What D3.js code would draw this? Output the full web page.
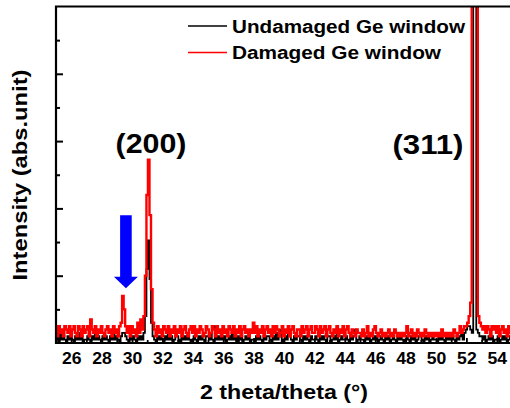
<!DOCTYPE html>
<html>
<head>
<meta charset="utf-8">
<script src="https://cdn.jsdelivr.net/npm/d3@7"></script>
<style>
  html, body { margin: 0; padding: 0; background: #fff; }
  svg { display: block; }
  text { font-family: "Liberation Sans", Arial, sans-serif; font-weight: bold; fill: #000; }
</style>
</head>
<body>
<svg id="chart" width="510" height="408"></svg>
<script>
// XRD scan: 2θ from 25° to 55° in 0.1° steps (one row per degree)
const scanStart = 25;
const scanStep = 0.1;

// Intensity (arbitrary units, axis spans 0–100)
const undamaged = [
  1,2,0,3,1,2,1,0,2,1,
  2,1,0,2,1,3,1,2,0,1,
  1,2,1,0,2,1,3,1,2,1,
  0,2,1,2,1,0,2,1,3,1,
  2,1,0,2,3,3,2,1,0,2,
  1,2,1,0,2,1,2,1,3,8,
  22,30.5,19,6,2,1,0,2,1,2,
  1,0,2,1,3,1,2,0,1,2,
  2,1,0,2,1,2,1,3,1,0,
  1,2,1,0,2,1,2,1,0,2,
  2,1,3,1,0,5,1,2,1,2,
  1,2,0,1,2,1,3,1,2,0,
  2,1,2,0,1,2,1,2,0,1,
  1,0,2,1,2,1,0,2,1,2,
  2,1,0,2,1,3,1,2,4,0,
  1,2,1,3,2,1,0,2,1,2,
  2,1,0,2,1,2,1,0,2,1,
  1,2,1,0,2,1,2,1,0,2,
  2,0,1,2,1,4,0,1,2,1,
  1,2,1,0,2,1,2,4,0,1,
  2,1,1,0,2,1,2,0,1,2,
  1,2,0,1,2,1,0,2,1,2,
  0,1,2,1,0,2,1,2,1,0,
  1,2,1,0,2,1,2,0,1,2,
  2,1,0,2,1,2,0,1,2,1,
  1,0,2,1,2,1,0,2,1,2,
  1,2,1,0,2,1,2,3,1,3,
  4,5,5,4,3,140,130,4,3,2,
  2,1,2,0,1,2,1,2,0,1,
  1,2,0,1,2,1,2,0,1,2,
  1
];

const damaged = [
  4,2,5,3,4,2,5,4,3,5,
  2,4,5,3,2,5,4,2,5,3,
  4,5,2,7,4,3,5,2,4,3,
  5,3,2,4,5,3,4,2,5,3,
  4,2,5,6,14,10,5,3,5,2,
  5,3,4,2,6,3,7,4,8,20,
  44,54.5,38,16,6,4,2,5,3,4,
  2,5,4,3,5,2,4,3,5,2,
  4,3,5,2,4,5,3,2,4,5,
  3,5,2,4,3,5,4,2,3,5,
  4,2,3,5,4,2,5,3,4,2,
  5,3,4,2,5,4,3,5,2,4,
  3,5,2,4,5,3,4,2,4,3,
  6,3,5,2,4,3,5,2,4,5,
  3,4,2,5,3,5,4,2,3,5,
  2,4,3,5,2,4,5,3,2,4,
  4,2,5,3,4,5,2,4,5,3,
  3,5,4,2,5,3,4,5,2,4,
  5,3,2,4,3,5,2,4,3,5,
  2,4,5,3,2,4,3,2,4,3,
  3,2,4,2,3,5,2,3,2,4,
  5,3,2,3,4,2,3,2,3,4,
  2,3,2,4,3,2,3,2,3,2,
  3,5,2,3,4,2,3,2,4,3,
  2,3,2,4,3,2,3,2,3,2,
  3,2,3,2,4,2,3,2,3,2,
  3,2,4,3,2,3,5,3,4,5,
  5,6,8,12,120,600,400,110,8,6,
  5,4,5,3,5,4,2,5,4,5,
  3,5,2,4,5,3,4,2,5,3,
  4
];

const majorXTicks = [26,28,30,32,34,36,38,40,42,44,46,48,50,52,54];
const minorXTicks = [25,27,29,31,33,35,37,39,41,43,45,47,49,51,53,55];
const majorYTicks = [20,40,60,80];
const minorYTicks = [10,30,50,70,90];

const seriesNames = ["Undamaged Ge window", "Damaged Ge window"];
const seriesColors = ["#000000", "#ff0000"];
const peakNames = ["(200)", "(311)"];
const xTitle = "2 theta/theta (\u00b0)";
const yTitle = "Intensity (abs.unit)";

// ---- layout ----
const plotLeft = 56, plotTop = 6.5, plotBottom = 343, plotRight = 512;

const x = d3.scaleLinear().domain([25, 55]).range([plotLeft, plotRight]);
const y = d3.scaleLinear().domain([0, 100]).range([plotBottom, plotTop]);

const svg = d3.select("#chart");

svg.append("defs").append("clipPath").attr("id", "plotClip")
  .append("rect")
  .attr("x", plotLeft).attr("y", plotTop)
  .attr("width", plotRight - plotLeft).attr("height", plotBottom - plotTop);

const toPoints = vals => vals.map((v, i) => [scanStart + i * scanStep, v]);

// counts per step are drawn as a stepped trace
const line = d3.line()
  .curve(d3.curveStep)
  .x(d => x(d[0]))
  .y(d => y(d[1]));

const plot = svg.append("g").attr("clip-path", "url(#plotClip)");

plot.append("path")
  .datum(toPoints(undamaged))
  .attr("d", line)
  .attr("fill", "none")
  .attr("stroke", seriesColors[0])
  .attr("stroke-width", 1.8)
  .attr("stroke-linejoin", "miter");

plot.append("path")
  .datum(toPoints(damaged))
  .attr("d", line)
  .attr("fill", "none")
  .attr("stroke", seriesColors[1])
  .attr("stroke-width", 2.4)
  .attr("stroke-linejoin", "miter");

// ---- axes (ticks point inward) ----
const tickStretch = 1.1;

const xMajor = svg.append("g")
  .attr("transform", `translate(0,${plotBottom})`)
  .call(d3.axisBottom(x).tickValues(majorXTicks).tickSizeInner(-5).tickSizeOuter(0).tickPadding(9.5));
xMajor.select(".domain").remove();
xMajor.selectAll("line").attr("stroke", "#000").attr("stroke-width", 1.8);
xMajor.selectAll("text")
  .attr("font-size", 16)
  .attr("font-family", "'Liberation Sans', Arial, sans-serif")
  .attr("font-weight", "bold")
  .attr("fill", "#000")
  .attr("transform", `scale(${tickStretch},1)`);

const xMinor = svg.append("g")
  .attr("transform", `translate(0,${plotBottom})`)
  .call(d3.axisBottom(x).tickValues(minorXTicks).tickSizeInner(-3).tickSizeOuter(0).tickFormat(""));
xMinor.select(".domain").remove();
xMinor.selectAll("line").attr("stroke", "#000").attr("stroke-width", 1.8);

const yMajor = svg.append("g")
  .attr("transform", `translate(${plotLeft},0)`)
  .call(d3.axisLeft(y).tickValues(majorYTicks).tickSizeInner(-7).tickSizeOuter(0).tickFormat(""));
yMajor.select(".domain").remove();
yMajor.selectAll("line").attr("stroke", "#000").attr("stroke-width", 2);

const yMinor = svg.append("g")
  .attr("transform", `translate(${plotLeft},0)`)
  .call(d3.axisLeft(y).tickValues(minorYTicks).tickSizeInner(-4).tickSizeOuter(0).tickFormat(""));
yMinor.select(".domain").remove();
yMinor.selectAll("line").attr("stroke", "#000").attr("stroke-width", 2);

// frame: left, top and bottom edges
const frame = svg.append("g").attr("stroke", "#000").attr("stroke-width", 2.2).attr("fill", "none");
frame.append("path").attr("d", `M${plotRight},${plotTop}H${plotLeft}V${plotBottom}H${plotRight}`);

// ---- legend ----
const legend = svg.append("g");
const legendRows = [
  { y: 26, baseline: 32.5, len: 233 },
  { y: 52.5, baseline: 58.5, len: 209 }
];
seriesNames.forEach((name, i) => {
  const r = legendRows[i];
  legend.append("line")
    .attr("x1", 188).attr("x2", 227)
    .attr("y1", r.y).attr("y2", r.y)
    .attr("stroke", seriesColors[i]).attr("stroke-width", 1.6);
  legend.append("text")
    .attr("x", 232).attr("y", r.baseline)
    .attr("font-size", 17.5)
    .attr("textLength", r.len)
    .attr("lengthAdjust", "spacingAndGlyphs")
    .text(name);
});

// ---- peak labels ----
const peakPos = [{ cx: 151, base: 152.5 }, { cx: 428, base: 153.5 }];
peakNames.forEach((p, i) => {
  svg.append("text")
    .attr("x", peakPos[i].cx).attr("y", peakPos[i].base)
    .attr("text-anchor", "middle")
    .attr("font-size", 28)
    .attr("textLength", 71)
    .attr("lengthAdjust", "spacingAndGlyphs")
    .text(p);
});

// ---- arrow marking the new reflection near 29.5° ----
const arrowAngle = 29.6;
const ax = x(arrowAngle);
const tipY = y(16.3), headY = y(19.7), tailY = y(38);
svg.append("path")
  .attr("d", `M${ax - 5.8},${tailY}H${ax + 5.8}V${headY}H${ax + 12}L${ax},${tipY}L${ax - 12},${headY}H${ax - 5.8}Z`)
  .attr("fill", "#0000ff");

// ---- axis titles ----
svg.append("text")
  .attr("x", 284).attr("y", 399)
  .attr("text-anchor", "middle")
  .attr("font-size", 19.5)
  .attr("textLength", 168)
  .attr("lengthAdjust", "spacingAndGlyphs")
  .text(xTitle);

svg.append("text")
  .attr("transform", "translate(27,175) rotate(-90)")
  .attr("text-anchor", "middle")
  .attr("font-size", 19.5)
  .attr("textLength", 211)
  .attr("lengthAdjust", "spacingAndGlyphs")
  .text(yTitle);
</script>
</body>
</html>
